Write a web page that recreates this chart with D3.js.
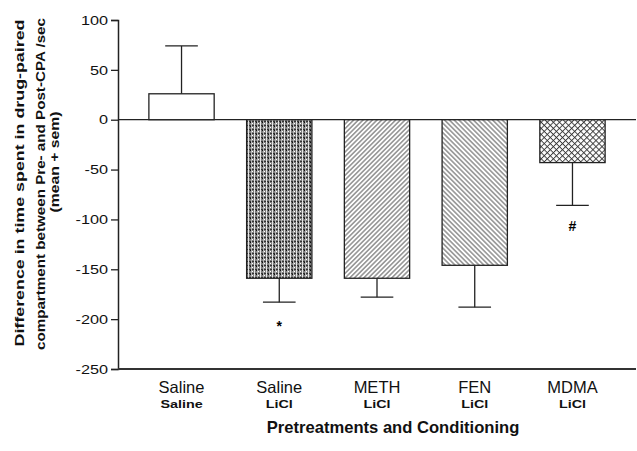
<!DOCTYPE html>
<html>
<head>
<meta charset="utf-8">
<script src="https://cdn.jsdelivr.net/npm/d3@7"></script>
<style>
  body { margin: 0; background: #fff; }
  svg { display: block; font-family: "Liberation Sans", Arial, sans-serif; }
</style>
</head>
<body>
<script>
// chart values
var pretreat = ["Saline", "Saline", "METH", "FEN", "MDMA"];
var conditioning = ["Saline", "LiCl", "LiCl", "LiCl", "LiCl"];
var means = [26, -159, -159, -146, -43];
var sems = [48, 24, 19, 42, 43];
var marks = ["", "*", "", "", "#"];
var fills = ["white", "url(#grid)", "url(#fwd)", "url(#back)", "url(#cross)"];
var yTicks = [100, 50, 0, -50, -100, -150, -200, -250];
var yLabel = ["Difference in time spent in drug-paired",
              "compartment between Pre- and Post-CPA /sec",
              "(mean + sem)"];

var width = 637, height = 451;
// plot box (note: "top" is reserved on window, so use plot*)
var plotL = 118, plotR = 636, plotT = 20, plotB = 369;

var svg = d3.select("body").append("svg")
    .attr("width", width)
    .attr("height", height);

// fill patterns
var defs = svg.append("defs");

var grid = defs.append("pattern").attr("id", "grid")
    .attr("patternUnits", "userSpaceOnUse")
    .attr("width", 6).attr("height", 4);
grid.append("rect").attr("width", 6).attr("height", 4).attr("fill", "#7e7e7e");
grid.append("rect").attr("x", 0).attr("y", 1).attr("width", 6).attr("height", 1).attr("fill", "#333");
grid.append("rect").attr("x", 2).attr("y", 0).attr("width", 1).attr("height", 4).attr("fill", "#e6e6e6");
grid.append("rect").attr("x", 4).attr("y", 2).attr("width", 1).attr("height", 1).attr("fill", "#111");
grid.append("rect").attr("x", 5).attr("y", 0).attr("width", 1).attr("height", 4).attr("fill", "#b5b5b5");
grid.append("rect").attr("x", 0).attr("y", 3).attr("width", 1).attr("height", 1).attr("fill", "#fff");

function hatch(id, angle, gap, strokeW) {
  var p = defs.append("pattern").attr("id", id)
      .attr("patternUnits", "userSpaceOnUse")
      .attr("width", gap).attr("height", gap)
      .attr("patternTransform", "rotate(" + angle + ")");
  p.append("rect").attr("width", gap).attr("height", gap).attr("fill", "white");
  p.append("line")
      .attr("x1", gap / 2).attr("y1", 0)
      .attr("x2", gap / 2).attr("y2", gap)
      .attr("stroke", "#444").attr("stroke-width", strokeW);
  return p;
}
hatch("fwd", 45, 3.3, 0.9);
hatch("back", -45, 3.4, 0.9);

var cross = defs.append("pattern").attr("id", "cross")
    .attr("patternUnits", "userSpaceOnUse")
    .attr("width", 4.3).attr("height", 4.3)
    .attr("patternTransform", "rotate(45)");
cross.append("rect").attr("width", 4.3).attr("height", 4.3).attr("fill", "white");
cross.append("line").attr("x1", 0).attr("y1", 0.5).attr("x2", 4.3).attr("y2", 0.5)
    .attr("stroke", "#333").attr("stroke-width", 0.9);
cross.append("line").attr("x1", 0.5).attr("y1", 0).attr("x2", 0.5).attr("y2", 4.3)
    .attr("stroke", "#333").attr("stroke-width", 0.9);

// scales
var idx = d3.range(pretreat.length);
var x = d3.scaleBand()
    .domain(idx)
    .range([plotL, plotR])
    .paddingInner(0.332)
    .paddingOuter(0.316);
var y = d3.scaleLinear()
    .domain([-250, 100])
    .range([plotB, plotT]);

// zero line
svg.append("line")
    .attr("x1", plotL).attr("x2", plotR)
    .attr("y1", y(0)).attr("y2", y(0))
    .attr("stroke", "#222").attr("stroke-width", 1.3);

// error bars
var capW = x.bandwidth() / 2;
var err = svg.append("g").attr("stroke", "#222").attr("stroke-width", 1.3);
idx.forEach(function(i) {
  var cx = x(i) + x.bandwidth() / 2;
  var tip = means[i] >= 0 ? means[i] + sems[i] : means[i] - sems[i];
  err.append("line")
      .attr("x1", cx).attr("x2", cx)
      .attr("y1", y(means[i])).attr("y2", y(tip));
  err.append("line")
      .attr("x1", cx - capW / 2).attr("x2", cx + capW / 2)
      .attr("y1", y(tip)).attr("y2", y(tip));
});

// bars
svg.selectAll(".bar")
    .data(idx)
  .enter().append("rect")
    .attr("class", "bar")
    .attr("x", function(i) { return x(i); })
    .attr("width", x.bandwidth())
    .attr("y", function(i) { return y(Math.max(0, means[i])); })
    .attr("height", function(i) { return Math.abs(y(means[i]) - y(0)); })
    .attr("fill", function(i) { return fills[i]; })
    .attr("stroke", "#222")
    .attr("stroke-width", 1.3);

// significance marks
svg.selectAll(".mark")
    .data(idx.filter(function(i) { return marks[i]; }))
  .enter().append("text")
    .attr("class", "mark")
    .attr("x", function(i) { return x(i) + x.bandwidth() / 2; })
    .attr("y", function(i) { return y(means[i] - sems[i]) + (marks[i] == "*" ? 29 : 26); })
    .attr("text-anchor", "middle")
    .style("font-size", "14px")
    .style("font-weight", "bold")
    .text(function(i) { return marks[i]; });

// y axis
var k = 1.25;
var yAxis = svg.append("g")
    .attr("transform", "translate(" + plotL + ",0)")
    .call(d3.axisLeft(y).tickValues(yTicks).tickSize(7).tickPadding(3)
      .tickFormat(function(d) { return String(d); }));
yAxis.select(".domain").attr("stroke", "#222").attr("stroke-width", 1.5);
yAxis.selectAll(".tick line").attr("stroke", "#222").attr("stroke-width", 1.3);
yAxis.selectAll(".tick text")
    .attr("fill", "#111")
    .style("font-size", "13px")
    .attr("x", -10 / k)
    .attr("transform", "scale(" + k + ",1)");

// bottom axis line
svg.append("line")
    .attr("x1", plotL).attr("x2", plotR)
    .attr("y1", plotB).attr("y2", plotB)
    .attr("stroke", "#333").attr("stroke-width", 2.2);

// category labels
svg.selectAll(".pre")
    .data(idx)
  .enter().append("text")
    .attr("class", "pre")
    .attr("x", function(i) { return x(i) + x.bandwidth() / 2; })
    .attr("y", 393)
    .attr("text-anchor", "middle")
    .attr("fill", "#111")
    .style("font-size", "16.5px")
    .text(function(i) { return pretreat[i]; });

svg.selectAll(".cond")
    .data(idx)
  .enter().append("text")
    .attr("class", "cond")
    .attr("transform", function(i) {
      return "translate(" + (x(i) + x.bandwidth() / 2) + ",408) scale(1.25,1)";
    })
    .attr("text-anchor", "middle")
    .attr("fill", "#111")
    .style("font-size", "11.5px")
    .style("font-weight", "bold")
    .text(function(i) { return conditioning[i]; });

svg.append("text")
    .attr("x", 393)
    .attr("y", 433)
    .attr("text-anchor", "middle")
    .attr("fill", "#111")
    .style("font-size", "16.6px")
    .style("font-weight", "bold")
    .text("Pretreatments and Conditioning");

// rotated y label
var labelPos = [{bx: 24, cy: 183, len: 327},
                {bx: 45, cy: 184, len: 332},
                {bx: 59, cy: 162, len: 101}];
yLabel.forEach(function(t, i) {
  svg.append("text")
      .attr("transform", "translate(" + labelPos[i].bx + "," + labelPos[i].cy + ") rotate(-90)")
      .attr("text-anchor", "middle")
      .attr("textLength", labelPos[i].len)
      .attr("lengthAdjust", "spacingAndGlyphs")
      .attr("fill", "#111")
      .style("font-size", "13.5px")
      .style("font-weight", "bold")
      .text(t);
});
</script>
</body>
</html>
